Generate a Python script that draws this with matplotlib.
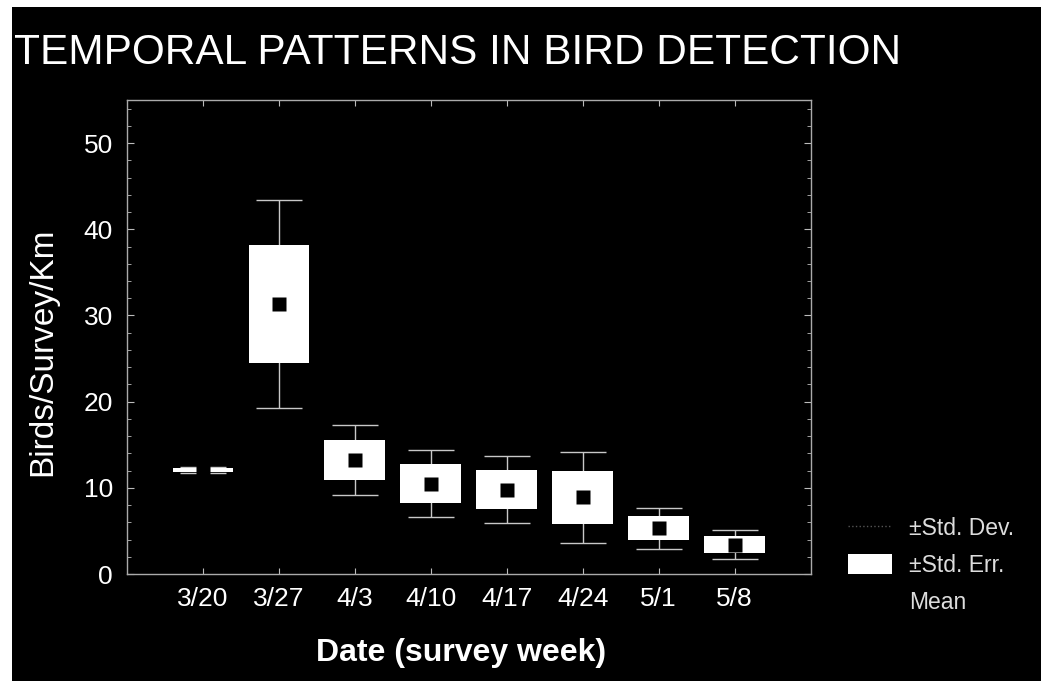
import numpy as np
import matplotlib
matplotlib.use('Agg')
import matplotlib.pyplot as plt
from matplotlib.patches import Rectangle, Patch
from matplotlib.lines import Line2D
from matplotlib.ticker import MultipleLocator

# survey weeks
dates = ['3/20', '3/27', '4/3', '4/10', '4/17', '4/24', '5/1', '5/8']
# mean birds/survey/km
mean_vals = [12.1, 31.3, 13.2, 10.5, 9.8, 8.9, 5.3, 3.4]
# +/- std. err. (half height of box)
se_vals = [0.25, 6.85, 2.35, 2.3, 2.3, 3.05, 1.4, 1.0]
# +/- std. dev. (half length of whiskers)
sd_vals = [0.35, 12.05, 4.05, 3.9, 3.9, 5.25, 2.35, 1.7]

plt.rcParams['font.family'] = ['Liberation Sans', 'DejaVu Sans']

fig = plt.figure(figsize=(10.47, 6.81), dpi=100, facecolor='white')
# black page with a thin white scan border
fig.patches.append(Rectangle((12/1047, 0), 1029/1047, 1 - 7/681,
                             transform=fig.transFigure, facecolor='black',
                             edgecolor='none', zorder=-10))

ax = fig.add_axes([127/1047, 1 - 574/681, 683.5/1047, 474/681])
ax.set_facecolor('black')

x = np.arange(1, len(dates) + 1)
mean_arr = np.array(mean_vals)
se_arr = np.array(se_vals)
sd_arr = np.array(sd_vals)

ax.errorbar(x, mean_arr, yerr=sd_arr, fmt='none', ecolor='#c8c8c8',
            elinewidth=1, capsize=16.9, capthick=1, zorder=2)
ax.bar(x, 2 * se_arr, bottom=mean_arr - se_arr, width=0.8,
       color='white', edgecolor='none', zorder=3)
ax.plot(x, mean_arr, 's', color='black', ms=9.5, mec='none', zorder=4)

ax.set_xlim(0, 9)
ax.set_ylim(0, 55)
ax.set_xticks(x)
ax.set_xticklabels(dates)
ax.yaxis.set_major_locator(MultipleLocator(10))
ax.yaxis.set_minor_locator(MultipleLocator(2))
ax.set_yticks([0, 10, 20, 30, 40, 50])

ax.tick_params(axis='both', which='both', direction='in', colors='#bbbbbb',
               top=True, right=True, labelcolor='white', labelsize=19)
ax.tick_params(axis='y', which='major', length=5, pad=10)
ax.tick_params(axis='y', which='minor', length=3)
ax.tick_params(axis='x', which='major', length=4, pad=9)

for sp in ax.spines.values():
    sp.set_color('#aaaaaa')
    sp.set_linewidth(1)
    sp.set_linestyle((0, (3, 1)))

ax.set_ylabel('Birds/Survey/Km', color='white', fontsize=24, va='center')
ax.yaxis.set_label_coords(-0.123, 0.469)
ax.set_xlabel('Date (survey week)', color='white', fontsize=23,
              fontweight='bold', va='center')
ax.xaxis.set_label_coords(0.489, -0.167)

# no narrow font installed, so shrink the size to keep the title width
fig.text(14/1047, 1 - 64/681, 'TEMPORAL PATTERNS IN BIRD DETECTION',
         color='white', fontsize=30.5, va='baseline', ha='left')

handles = [Line2D([0], [0], color='#555555', lw=1, ls=':'),
           Patch(facecolor='white', edgecolor='none'),
           Line2D([0], [0], marker='s', color='black', ls='none', ms=9.5)]
labels = ['\u00b1Std. Dev.', '\u00b1Std. Err.', 'Mean']
leg = ax.legend(handles, labels, loc='upper left',
                bbox_to_anchor=(848/1047, 1 - 517/681),
                bbox_transform=fig.transFigure, frameon=False,
                fontsize=16.5, handlelength=1.9, handleheight=0.97,
                handletextpad=0.75, labelspacing=0.62, borderpad=0,
                borderaxespad=0)
for t in leg.get_texts():
    t.set_color('#dddddd')

fig.savefig('out.png', dpi=100, facecolor=fig.get_facecolor())
